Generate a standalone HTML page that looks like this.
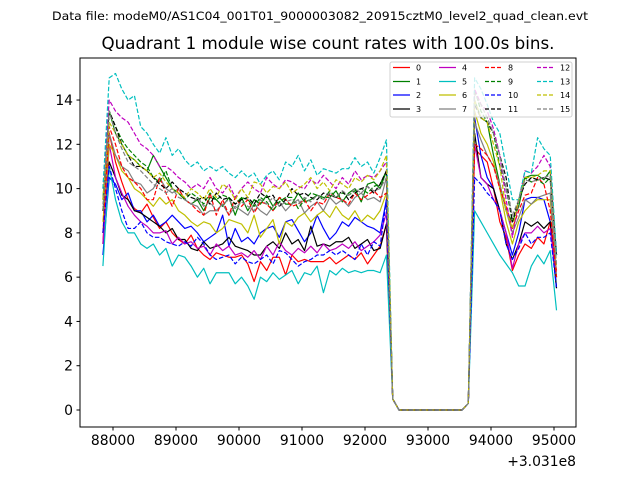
<!DOCTYPE html>
<html><head><meta charset="utf-8"><style>
body{margin:0;background:#fff;}
svg{display:block;font-family:"DejaVu Sans","Liberation Sans",sans-serif;}
</style></head><body>
<svg id="chart" width="640" height="480" viewBox="0 0 640 480">
<rect x="0" y="0" width="640" height="480" fill="#fff"/>
<text x="320" y="20" text-anchor="middle" font-size="11.5" textLength="536" lengthAdjust="spacingAndGlyphs">Data file: modeM0/AS1C04_001T01_9000003082_20915cztM0_level2_quad_clean.evt</text>
<text x="328" y="49" text-anchor="middle" font-size="16.7">Quadrant 1 module wise count rates with 100.0s bins.</text>
<g id="series"></g>
<rect x="80" y="58" width="496" height="369" fill="none" stroke="#000" stroke-width="1"/>
<g id="axes"></g>
<text x="576" y="466" text-anchor="end" font-size="13.9">+3.031e8</text>
<g id="legend"></g>
</svg>
<script>
const t0 = 87840;
const tStep = 100;
const xTicks = [88000,89000,90000,91000,92000,93000,94000,95000];
const yTicks = [0,2,4,6,8,10,12,14];
const labels = ["0","1","2","3","4","5","6","7","8","9","10","11","12","13","14","15"];
const gap = [0.5,0,0,0,0,0,0,0,0,0,0,0,0.3];
const pre0=[7.5,12.5,11.2,10.3,9.5,9.1,8.9,9.3,8.7,8.2,8.5,8.0,7.7,7.5,7.9,7.3,7.0,6.8,7.1,7.0,6.9,6.9,7.0,6.6,5.8,6.7,6.3,6.9,6.9,6.1,7.0,6.7,6.8,6.7,6.7,6.7,6.9,6.6,6.8,7.0,6.8,7.1,6.6,7.0,7.4,8.4];
const post0=[11.8,11.5,11.2,10.0,8.5,7.8,6.3,7.0,7.5,7.3,7.8,7.5,8.5,6.3];
const pre1=[9.5,13.5,12.5,12.0,11.5,11.3,11.0,10.8,11.5,11.0,10.5,10.0,9.8,9.5,9.3,9.5,9.0,9.6,9.5,9.2,9.6,8.8,9.6,9.0,9.5,9.3,9.7,9.2,9.6,9.3,9.3,9.8,9.4,9.5,9.7,9.6,9.6,9.9,9.4,9.8,10.0,9.4,10.2,10.3,10.0,10.8];
const post1=[14.0,13.2,13.0,11.5,10.2,9.0,8.5,9.2,10.5,10.6,10.6,10.4,10.8,7.0];
const pre2=[7.0,10.5,10.2,9.5,9.8,9.0,9.0,8.5,8.8,8.3,8.5,8.8,8.5,8.2,8.3,8.0,7.6,7.8,8.0,8.8,7.4,8.2,7.6,7.8,7.5,8.0,8.2,8.3,7.8,8.5,8.6,8.1,7.6,8.0,8.8,8.2,7.7,8.0,8.5,8.3,8.7,8.5,8.3,8.2,8.0,9.5];
const post2=[13.2,11.5,10.5,10.0,9.0,8.0,7.0,8.0,9.5,9.6,9.6,9.5,8.5,5.5];
const pre3=[8.0,11.2,10.5,9.7,9.5,9.0,8.9,8.7,8.5,8.3,8.0,8.2,7.7,7.7,7.3,7.2,7.6,7.3,7.4,7.5,7.8,7.4,7.3,7.2,7.0,7.0,7.4,7.6,7.3,8.0,7.5,7.7,7.2,8.3,7.4,7.5,7.4,7.6,7.6,7.8,7.3,7.5,7.7,7.2,7.3,8.4];
const post3=[12.5,10.5,10.2,10.0,9.0,7.5,6.8,7.5,8.5,8.3,8.5,8.2,8.5,5.5];
const pre4=[7.5,12.0,10.5,9.8,9.2,8.8,8.5,8.3,8.0,8.0,8.1,7.5,7.8,7.5,7.6,7.3,7.4,7.0,7.5,7.2,7.4,7.0,7.1,6.9,7.2,6.8,7.4,7.0,7.6,7.2,7.0,7.3,7.1,7.4,7.1,7.5,7.2,7.3,7.5,7.3,7.6,7.2,7.4,7.6,7.9,8.9];
const post4=[12.0,10.5,10.2,9.5,9.0,8.0,6.4,7.5,8.0,8.0,8.3,8.0,8.2,6.0];
const pre5=[6.5,11.0,9.5,8.5,8.0,8.0,7.5,7.3,7.5,7.0,7.3,6.5,7.0,6.9,6.5,6.0,6.4,5.7,6.2,6.2,6.2,5.7,6.0,5.6,5.0,6.0,5.8,6.2,5.9,6.1,6.3,5.7,6.2,6.1,6.5,5.3,6.3,6.1,6.4,6.2,6.3,6.2,6.3,6.3,6.2,7.0];
const post5=[9.0,8.5,8.0,7.5,7.0,6.6,6.2,5.6,5.6,6.5,7.0,6.6,7.2,4.5];
const pre6=[8.5,12.0,11.5,10.8,10.5,10.0,9.8,9.5,9.2,9.6,9.3,9.5,9.0,8.8,8.5,8.3,8.5,8.4,8.0,8.2,8.6,8.5,8.4,8.0,8.8,7.8,8.2,8.6,7.5,8.5,8.3,8.7,8.9,8.5,8.8,9.0,8.7,9.2,8.8,8.6,9.0,8.5,8.8,8.6,9.0,9.8];
const post6=[13.5,12.5,12.0,11.2,10.0,8.5,7.5,8.5,9.0,9.3,9.5,9.5,9.5,6.0];
const pre7=[9.0,12.5,11.5,11.0,10.8,10.3,10.2,9.8,10.0,10.5,10.0,9.8,10.0,9.5,9.3,9.2,8.8,9.0,9.0,9.3,8.8,9.2,9.0,8.8,9.3,9.0,8.8,9.2,9.4,9.0,9.3,9.5,8.9,9.2,9.4,9.0,9.6,9.3,9.5,9.2,9.6,9.8,9.5,9.6,9.4,10.5];
const post7=[13.0,12.2,11.5,11.0,10.2,9.0,8.0,8.7,9.5,9.3,9.6,9.7,9.8,6.0];
const pre8=[8.0,12.8,12.0,11.0,10.5,10.3,10.0,9.5,9.5,10.5,9.8,9.2,10.0,9.5,9.3,9.0,8.8,9.8,8.8,9.5,8.8,9.6,9.2,9.5,8.9,9.4,9.3,9.0,9.6,9.5,9.2,9.3,9.5,9.0,9.4,9.3,9.8,9.6,9.5,9.3,9.8,9.5,9.7,9.9,9.6,9.8];
const post8=[12.0,11.8,11.5,11.0,10.0,9.2,8.2,9.0,9.7,9.8,10.5,10.2,9.0,6.0];
const pre9=[9.0,13.5,12.8,12.2,11.8,11.5,11.2,11.0,10.5,10.3,10.8,10.0,9.8,9.5,9.8,9.6,9.3,9.8,9.5,9.7,9.6,9.3,9.6,9.5,9.2,9.6,9.4,9.0,9.4,9.6,9.6,9.1,9.5,9.8,9.7,9.5,9.9,9.6,9.8,9.7,9.9,10.0,9.8,10.1,10.2,10.8];
const post9=[14.5,13.5,13.0,12.5,11.0,10.0,8.5,9.5,10.5,10.3,10.4,10.2,10.5,7.0];
const pre10=[8.0,11.0,10.0,9.0,8.2,8.2,8.5,8.0,7.8,7.8,7.6,7.5,7.4,7.6,7.4,7.8,7.5,7.0,6.8,6.9,7.0,6.6,6.9,6.7,6.6,6.8,7.0,6.6,7.2,7.1,6.8,6.5,6.7,6.8,7.0,7.0,7.2,7.0,7.2,7.0,6.8,7.5,7.0,7.6,7.4,9.5];
const post10=[10.5,10.2,9.8,9.5,9.0,7.5,6.8,7.3,8.0,7.5,7.8,7.8,8.0,5.5];
const pre11=[9.0,13.5,12.8,12.0,11.5,11.0,11.0,10.8,10.5,10.2,10.0,10.3,10.0,9.8,9.6,9.5,9.6,9.3,9.8,9.5,9.6,9.3,9.5,9.6,9.3,9.8,9.6,9.7,9.2,9.5,10.0,9.7,9.8,9.6,9.5,9.8,9.7,9.6,9.9,9.5,9.8,10.0,10.1,9.8,10.2,10.8];
const post11=[13.8,13.2,13.0,12.5,11.5,10.5,8.5,9.5,10.2,10.5,10.4,10.5,10.4,7.0];
const pre12=[10.0,14.0,13.5,13.2,13.0,12.5,12.0,11.8,11.5,11.0,11.0,10.8,10.5,10.3,10.0,10.2,10.0,10.5,10.0,9.8,10.2,9.6,10.0,10.3,10.0,9.8,10.5,10.2,10.0,10.4,10.3,10.1,10.0,10.4,10.2,10.6,10.3,10.0,10.5,10.2,10.8,10.4,10.6,10.5,10.8,11.2];
const post12=[14.5,13.8,13.5,12.7,11.5,9.5,7.8,9.5,10.8,10.7,11.0,11.5,11.0,7.0];
const pre13=[10.0,15.0,15.2,14.5,14.0,14.2,12.8,12.5,12.0,11.6,12.3,11.5,11.8,11.3,11.0,11.2,10.8,11.0,10.8,11.0,10.7,10.5,10.8,10.5,10.7,10.2,10.6,10.8,10.4,11.2,11.0,11.5,10.8,11.3,10.6,10.9,10.8,10.7,10.9,10.9,11.4,11.0,11.2,10.7,11.4,12.2];
const post13=[15.0,14.5,13.8,13.0,12.5,11.0,9.5,9.5,10.8,10.7,12.3,11.8,11.5,7.0];
const pre14=[9.5,13.0,12.5,12.0,11.5,11.3,11.0,10.8,10.5,10.7,10.3,10.0,9.8,9.6,10.0,9.8,9.5,10.0,9.6,10.2,10.0,9.5,10.0,9.6,10.3,10.2,9.8,10.1,10.0,10.3,9.8,10.0,10.2,10.5,10.0,10.3,9.9,10.4,10.2,10.0,10.5,10.3,10.6,10.4,10.8,11.5];
const post14=[14.0,13.2,13.0,12.0,11.0,9.0,8.2,9.5,10.5,10.5,10.6,10.8,10.8,6.5];
const pre15=[9.0,13.5,12.5,11.8,11.2,11.0,10.8,10.5,10.2,10.0,9.8,10.0,9.6,9.5,9.3,9.6,9.2,9.4,9.0,9.3,9.5,9.1,9.4,9.2,9.0,9.5,9.3,9.6,9.2,9.4,9.5,9.3,9.6,9.4,9.7,9.5,9.8,9.6,9.9,9.7,10.0,9.8,10.1,9.9,10.0,10.5];
const post15=[14.3,13.8,13.2,12.5,11.5,10.0,8.8,9.5,10.4,10.3,10.4,10.5,10.6,6.5];

const pres=[pre0,pre1,pre2,pre3,pre4,pre5,pre6,pre7,pre8,pre9,pre10,pre11,pre12,pre13,pre14,pre15];
const posts=[post0,post1,post2,post3,post4,post5,post6,post7,post8,post9,post10,post11,post12,post13,post14,post15];
const colors=["#ff0000","#008000","#0000ff","#000000","#bf00bf","#00bfbf","#bfbf00","#808080"];
const NS="http://www.w3.org/2000/svg";
function xs(t){return 113+(t-88000)*0.063;}
function ys(v){return 410-v*22.14;}
function mk(tag,attrs,parent){const e=document.createElementNS(NS,tag);for(const k in attrs)e.setAttribute(k,attrs[k]);parent.appendChild(e);return e;}

const sg=document.getElementById('series');
for(let k=0;k<16;k++){
  const vals=pres[k].concat(gap,posts[k]);
  const pts=vals.map((v,i)=>xs(t0+i*tStep).toFixed(2)+','+ys(v).toFixed(2)).join(' ');
  const attrs={points:pts,fill:'none',stroke:colors[k%8],'stroke-width':1.2,'stroke-linejoin':'round'};
  if(k>=8) attrs['stroke-dasharray']='4.5,2';
  const pl=mk('polyline',attrs,sg);
  
  
}

const ag=document.getElementById('axes');
xTicks.forEach(t=>{
  const x=xs(t);
  const l=mk('line',{x1:x,x2:x,y1:427,y2:430.5,stroke:'#000','stroke-width':1},ag);
  
  
  const tx=mk('text',{x:x,y:445,'text-anchor':'middle','font-size':13.9},ag);
  tx.textContent=t;
  
  
});
yTicks.forEach(v=>{
  const y=ys(v);
  const l=mk('line',{x1:76.5,x2:80,y1:y,y2:y,stroke:'#000','stroke-width':1},ag);
  
  
  const tx=mk('text',{x:73,y:y+5,'text-anchor':'end','font-size':13.9},ag);
  tx.textContent=v;
  
  
});

const lg=document.getElementById('legend');
const box=mk('rect',{x:390,y:62,width:182,height:55,rx:2,fill:'#fff','fill-opacity':0.8,stroke:'#d0d0d0','stroke-width':1},lg);


const colX=[393,439,485,537];
const rowY=[67.5,81.5,95,109];
for(let k=0;k<16;k++){
  const c=Math.floor(k/4), r=k%4;
  const x=colX[c], y=rowY[r];
  const ln=mk('line',{x1:x,x2:x+17,y1:y,y2:y,stroke:colors[k%8],'stroke-width':1.3},lg);
  if(k>=8) ln.setAttribute('stroke-dasharray','4,2');
  
  
  const tx=mk('text',{x:x+23,y:y+3,'font-size':8},lg);
  tx.textContent=labels[k];
  
  
}
</script>
</body></html>
